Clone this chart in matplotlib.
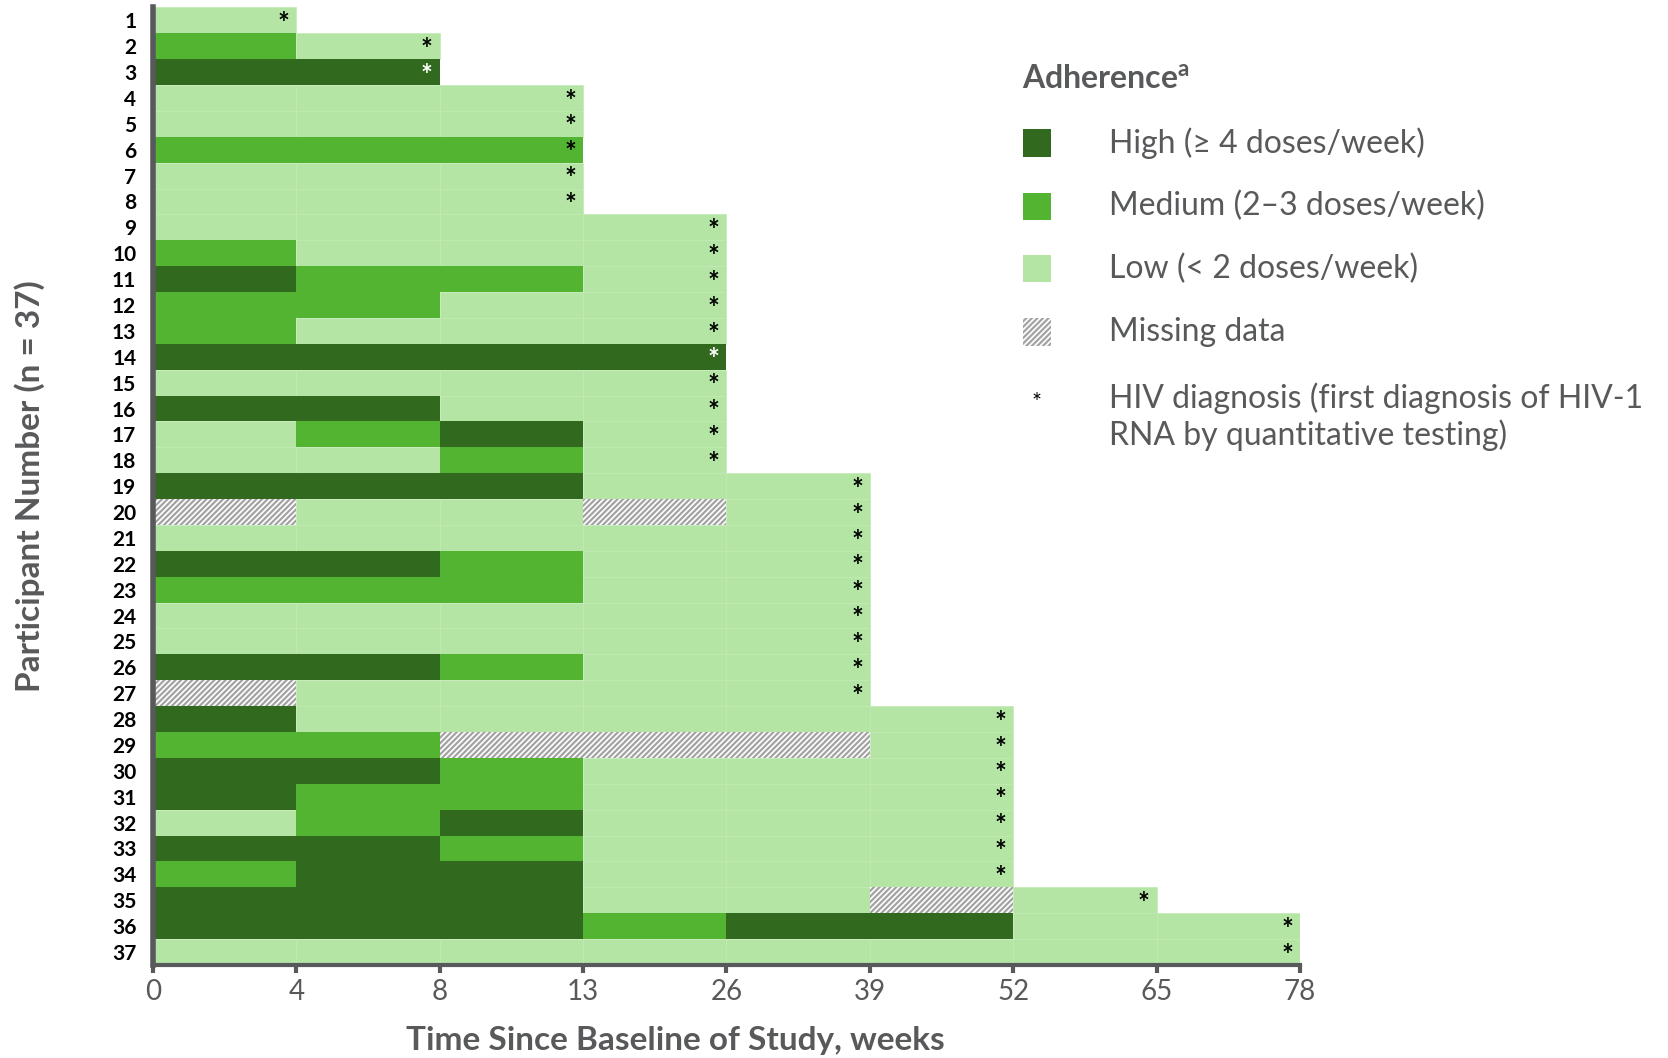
import matplotlib.pyplot as plt
from matplotlib.patches import Rectangle

plt.rcParams['font.family'] = ['Lato', 'DejaVu Sans']
plt.rcParams['hatch.linewidth'] = 1.6

# interval boundaries (weeks), drawn at equal spacing
week_ticks = [0, 4, 8, 13, 26, 39, 52, 65, 78]

# adherence per interval for each participant: H=high, M=medium, L=low, X=missing
participants = list(range(1, 38))
adherence = [
    "L", "ML", "HH", "LLL", "LLL", "MMM", "LLL", "LLL",
    "LLLL", "MLLL", "HMML", "MMLL", "MLLL", "HHHH", "LLLL", "HHLL",
    "LMHL", "LLML",
    "HHHLL", "XLLXL", "LLLLL", "HHMLL", "MMMLL", "LLLLL", "LLLLL",
    "HHMLL", "XLLLL",
    "HLLLLL", "MMXXXL", "HHMLLL", "HMMLLL", "LMHLLL", "HHMLLL", "MHHLLL",
    "HHHLLXL", "HHHMHHLL", "LLLLLLLL",
]

colors = {'H': '#31691f', 'M': '#53b432', 'L': '#b5e5a5'}
grey = '#58595b'

fig = plt.figure(figsize=(16.68, 10.58), dpi=100)
ax = fig.add_axes([0.0917, 0.088, 0.6877, 0.905])

for p, seq in zip(participants, adherence):
    for i, code in enumerate(seq):
        if code == 'X':
            ax.barh(p, 1, left=i, height=1.0, color='white', edgecolor='#a3a3a3',
                    hatch='//////', linewidth=0)
        elif code == 'L':
            ax.barh(p, 1, left=i, height=1.0, color=colors[code],
                    edgecolor='#c2eab4', linewidth=0.5)
        else:
            ax.barh(p, 1, left=i, height=1.0, color=colors[code], linewidth=0)
    end = len(seq)
    star_col = 'white' if seq[-1] == 'H' else 'black'
    ax.text(end - 0.09, p + 0.14, '*', ha='center', va='center',
            fontsize=20, fontweight='bold', color=star_col)

ax.set_xlim(0, len(week_ticks) - 1)
ax.set_ylim(len(participants) + 0.5, 0.5)
ax.set_xticks(range(len(week_ticks)))
ax.set_xticklabels([str(w) for w in week_ticks], fontsize=20, color=grey)
ax.set_yticks(participants)
ax.set_yticklabels([str(p) for p in participants], fontsize=15,
                   fontweight='bold', color='black')
ax.tick_params(axis='y', length=0, pad=12)
ax.tick_params(axis='x', length=6, width=3, color=grey, pad=4)

for s in ['top', 'right']:
    ax.spines[s].set_visible(False)
ax.spines['left'].set_color(grey)
ax.spines['left'].set_linewidth(4)
ax.spines['bottom'].set_color(grey)
ax.spines['bottom'].set_linewidth(3)

ax.set_xlabel('Time Since Baseline of Study, weeks', fontsize=24,
              fontweight='bold', color=grey)
ax.xaxis.set_label_coords(0.455, -0.079)
ax.xaxis.label.set_va('center')
ax.set_ylabel('Participant Number (n = 37)', fontsize=24,
              fontweight='bold', color=grey, labelpad=48)

# legend, drawn by hand
fig.text(0.613, 0.925, r'Adherence$^{\mathregular{a}}$', fontsize=23,
         fontweight='bold', color=grey, va='center')
legend_items = [
    ('H', 'High (≥ 4 doses/week)'),
    ('M', 'Medium (2–3 doses/week)'),
    ('L', 'Low (< 2 doses/week)'),
    ('X', 'Missing data'),
]
ys = [0.865, 0.805, 0.746, 0.686]
sw, sh = 0.0168, 0.026
for (code, label), y in zip(legend_items, ys):
    if code == 'X':
        r = Rectangle((0.6135, y - sh / 2), sw, sh, transform=fig.transFigure,
                      facecolor='white', edgecolor='#a3a3a3', hatch='//////',
                      linewidth=0)
    else:
        r = Rectangle((0.6135, y - sh / 2), sw, sh, transform=fig.transFigure,
                      facecolor=colors[code], linewidth=0)
    fig.patches.append(r)
    fig.text(0.665, y, label, fontsize=23, color=grey, va='center')

fig.text(0.6215, 0.62, '*', fontsize=17, color='black', ha='center', va='center')
fig.text(0.665, 0.606, 'HIV diagnosis (first diagnosis of HIV-1\nRNA by quantitative testing)',
         fontsize=23, color=grey, va='center', linespacing=1.2)

fig.savefig('out.png', dpi=100)
